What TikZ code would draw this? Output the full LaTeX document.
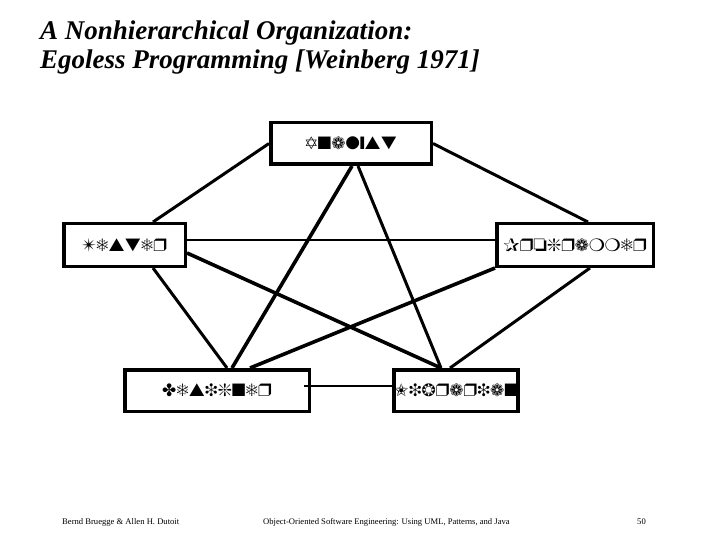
\documentclass[tikz,border=0pt]{standalone}
\usepackage{fontspec}
\setmainfont{Liberation Serif}
\usepackage{pifont}
\newcommand{\zapf}{\usefont{U}{pzd}{m}{n}}
\begin{document}
\begin{tikzpicture}[x=1pt,y=-1pt,
  role/.style={draw=black,line width=3.5pt,rectangle,inner sep=0pt,
    font=\zapf\fontsize{18}{18}\selectfont,align=center},
  conn/.style={draw=black,line width=3pt},
  connthick/.style={draw=black,line width=3.6pt},
  connthin/.style={draw=black,line width=1.3pt},
  titletext/.style={anchor=base west,inner sep=0pt,
    font=\fontsize{27}{27}\selectfont\bfseries\itshape},
  foot/.style={anchor=base west,inner sep=0pt,font=\fontsize{8.6}{8.6}\selectfont}]
\useasboundingbox[fill=white] (0,0) rectangle (720,540);

\node[titletext] (t1) at (40,40) {A Nonhierarchical Organization:};
\node[titletext] (t2) at (40,69) {Egoless Programming [Weinberg 1971]};

\node[role,minimum width=160.5pt,minimum height=41.5pt] (A) at (351,143.5) {Analyst};
\node[role,minimum width=121.5pt,minimum height=42.5pt] (T) at (124.5,245) {Tester};
\node[role,minimum width=156.5pt,minimum height=42.5pt] (P) at (575,245) {Programmer};
\node[role,minimum width=184.5pt,minimum height=41.5pt] (D) at (217,390.5) {Designer};
\node[role,minimum width=120.5pt,minimum height=41.5pt] (L) at (456,390.5) {Librarian};

\draw[conn] (A.west) -- ([xshift=28.5pt]T.north);
\draw[conn] (A.east) -- ([xshift=13pt]P.north);
\draw[connthick] ([xshift=1pt]A.south) -- ([xshift=15pt]D.north);
\draw[conn] ([xshift=7pt]A.south) -- ([xshift=-15pt]L.north);
\draw[connthin] ([yshift=5pt]T.east) -- ([yshift=5pt]P.west);
\draw[connthick] ([yshift=-8pt]T.east) -- ([xshift=-15pt]L.north);
\draw[conn] ([xshift=28.5pt]T.south) -- ([xshift=10pt]D.north);
\draw[connthick] (P.south west) -- ([xshift=33pt]D.north);
\draw[conn] ([xshift=15pt]P.south) -- ([xshift=-6pt]L.north);
\draw[connthin] ([xshift=-7pt,yshift=4.5pt]D.east) -- ([yshift=4.5pt]L.west);

\node[foot] (f1) at (62,524) {Bernd Bruegge \& Allen H. Dutoit};
\node[foot] (f2) at (263,524) {Object-Oriented Software Engineering: Using UML, Patterns, and Java};
\node[foot] (f3) at (637,524) {50};
\end{tikzpicture}
\end{document}
